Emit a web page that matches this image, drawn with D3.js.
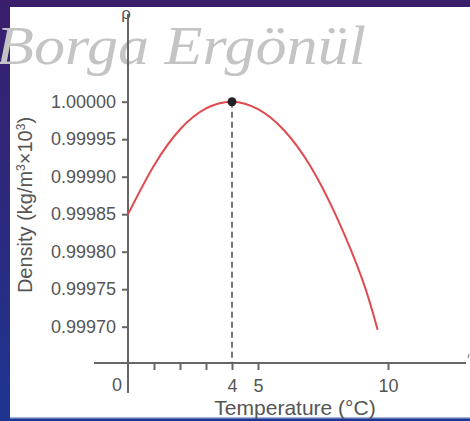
<!DOCTYPE html>
<html>
<head>
<meta charset="utf-8">
<script src="https://cdn.jsdelivr.net/npm/d3@7"></script>
<style>
  html, body { margin: 0; padding: 0; }
  body { width: 470px; height: 421px; overflow: hidden; }
  text { font-family: "Liberation Sans", Arial, sans-serif; }
</style>
</head>
<body>
<div id="chart"></div>
<script>
// data
const temps = [0, 1, 2, 3, 4, 5, 6, 7, 8, 9, 9.6];
const density = [0.99985, 0.999915, 0.999963, 0.999991, 1.0, 0.99999, 0.999962, 0.999915, 0.999848, 0.999764, 0.999696];
const yTicks = [0.99970, 0.99975, 0.99980, 0.99985, 0.99990, 0.99995, 1.00000];
const xTicks = [1, 2, 3, 4, 5, 10];
const xLabels = { 4: "4", 5: "5", 10: "10" };
const maxPoint = { t: 4, d: 1.0 };

const width = 470, height = 421;

const svg = d3.select("#chart")
  .append("svg")
  .attr("width", width)
  .attr("height", height);

// slide background
const defs = svg.append("defs");
const grad = defs.append("linearGradient")
  .attr("id", "bg")
  .attr("x1", 0).attr("y1", 0).attr("x2", 0).attr("y2", 1);
grad.append("stop").attr("offset", "0%").attr("stop-color", "#3a1e6c");
grad.append("stop").attr("offset", "100%").attr("stop-color", "#1d3590");

svg.append("rect").attr("width", width).attr("height", height).attr("fill", "url(#bg)");
svg.append("rect")
  .attr("x", 10).attr("y", 7)
  .attr("width", width - 10).attr("height", 411)
  .attr("fill", "#ffffff");
svg.append("rect")
  .attr("x", 10).attr("y", 417)
  .attr("width", width - 10).attr("height", 1.5)
  .attr("fill", "#9fb4e0");

// scales
const x = d3.scaleLinear().domain([0, 10]).range([128, 388]);
const y = d3.scaleLinear().domain([0.9997, 1.0]).range([326.7, 101.7]);
const axisY = 363; // where the temperature axis crosses

const axisColor = "#666";

// watermark (cut at the left edge, as in the slide)
svg.append("text")
  .attr("x", -4)
  .attr("y", 64)
  .attr("textLength", 370)
  .attr("lengthAdjust", "spacingAndGlyphs")
  .style("font-family", "'Liberation Serif', serif")
  .style("font-style", "italic")
  .style("font-size", "54px")
  .style("fill", "#c4c4c4")
  .text("Borga Ergönül");

// axis lines
svg.append("line")
  .attr("x1", 128).attr("x2", 128)
  .attr("y1", 14).attr("y2", 393)
  .attr("stroke", axisColor).attr("stroke-width", 2);
svg.append("line")
  .attr("x1", 94).attr("x2", 466)
  .attr("y1", axisY).attr("y2", axisY)
  .attr("stroke", axisColor).attr("stroke-width", 2);
svg.append("line")
  .attr("x1", 469).attr("x2", 468)
  .attr("y1", 354).attr("y2", 358)
  .attr("stroke", "#888").attr("stroke-width", 1.2);

// y axis
const gy = svg.append("g")
  .attr("transform", "translate(128,0)")
  .call(d3.axisLeft(y).tickValues(yTicks).tickFormat(d3.format(".5f")).tickSize(6).tickPadding(6));
gy.select(".domain").remove();
gy.selectAll(".tick line").attr("stroke", axisColor).attr("stroke-width", 2);
gy.selectAll(".tick text")
  .style("font-size", "18px")
  .attr("fill", "#555");

// x axis
const gx = svg.append("g")
  .attr("transform", `translate(0,${axisY})`)
  .call(d3.axisBottom(x).tickValues(xTicks).tickFormat(d => xLabels[d] || "").tickSize(7).tickPadding(9));
gx.select(".domain").remove();
gx.selectAll(".tick line").attr("stroke", axisColor).attr("stroke-width", 2);
gx.selectAll(".tick text")
  .style("font-size", "18px")
  .attr("fill", "#555");

svg.append("text")
  .attr("x", 117)
  .attr("y", 391)
  .attr("text-anchor", "middle")
  .style("font-size", "18px")
  .attr("fill", "#555")
  .text("0");

// axis titles
svg.append("text")
  .attr("x", 126)
  .attr("y", 19)
  .attr("text-anchor", "middle")
  .style("font-size", "17px")
  .attr("fill", "#555")
  .text("ρ");

svg.append("text")
  .attr("x", 295)
  .attr("y", 415)
  .attr("text-anchor", "middle")
  .style("font-size", "21px")
  .attr("fill", "#555")
  .text("Temperature (°C)");

const yt = svg.append("text")
  .attr("transform", "translate(32,205) rotate(-90)")
  .attr("text-anchor", "middle")
  .style("font-size", "20px")
  .attr("fill", "#555");
yt.append("tspan").text("Density (kg/m");
yt.append("tspan").attr("dy", -7).style("font-size", "12px").text("3");
yt.append("tspan").attr("dy", 7).text("×10");
yt.append("tspan").attr("dy", -7).style("font-size", "12px").text("3");
yt.append("tspan").attr("dy", 7).text(")");

// dashed line at the maximum
svg.append("line")
  .attr("x1", x(maxPoint.t)).attr("x2", x(maxPoint.t))
  .attr("y1", y(maxPoint.d)).attr("y2", axisY)
  .attr("stroke", "#555")
  .attr("stroke-width", 1.6)
  .attr("stroke-dasharray", "6,4");

// curve
const line = d3.line()
  .x((d, i) => x(temps[i]))
  .y(d => y(d))
  .curve(d3.curveNatural);

svg.append("path")
  .datum(density)
  .attr("d", line)
  .attr("fill", "none")
  .attr("stroke", "#e04a4f")
  .attr("stroke-width", 2);

svg.append("circle")
  .attr("cx", x(maxPoint.t))
  .attr("cy", y(maxPoint.d))
  .attr("r", 4.5)
  .attr("fill", "#222");
</script>
</body>
</html>
